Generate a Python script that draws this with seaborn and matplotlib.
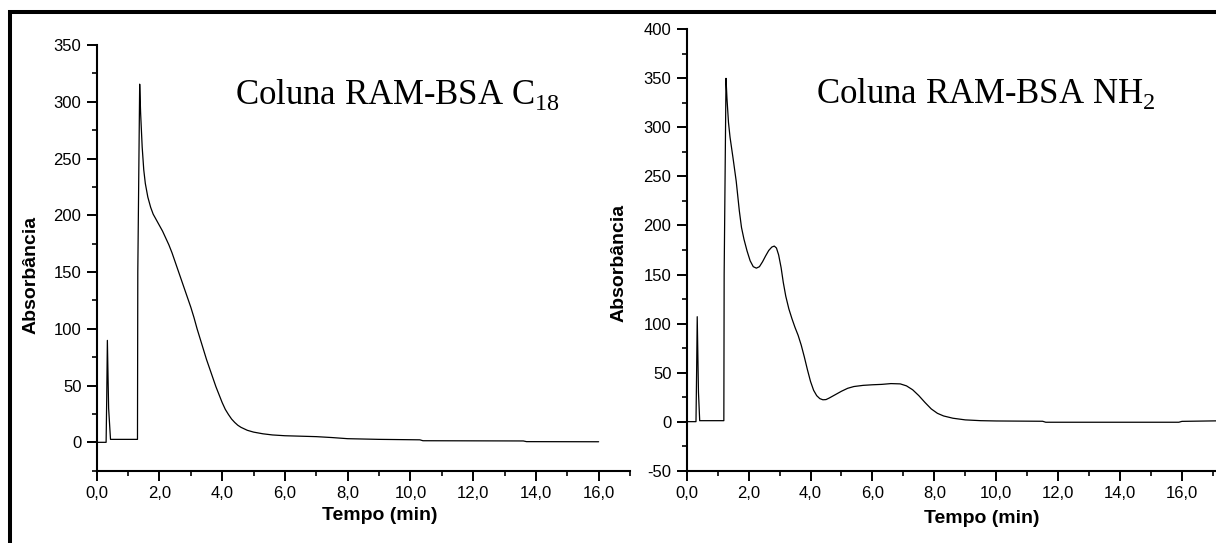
import numpy as np
import pandas as pd
import matplotlib
matplotlib.use("Agg")
import matplotlib.pyplot as plt
import matplotlib.patches as patches
from matplotlib.ticker import MultipleLocator, FuncFormatter
import seaborn as sns

# chromatogram: coluna RAM-BSA C18
c18_time = [0.0, 0.30, 0.32, 0.34, 0.38, 0.44, 1.30, 1.31, 1.37, 1.40, 1.45, 1.50, 1.55,
            1.63, 1.72, 1.80, 1.90, 2.00, 2.10, 2.20, 2.30, 2.40, 2.50, 2.60, 2.70,
            2.80, 2.90, 3.00, 3.10, 3.20, 3.30, 3.40, 3.50, 3.60, 3.70, 3.80, 3.90,
            4.00, 4.10, 4.20, 4.30, 4.40, 4.50, 4.60, 4.80, 5.00, 5.30, 5.60, 6.00,
            7.00, 7.50, 8.00, 9.00, 10.30, 10.40, 13.60, 13.70, 16.00]
c18_abs = [0.0, 0.0, 40.0, 89.8, 30.0, 2.6, 2.6, 150.0, 315.5, 290.0, 260.0, 240.0, 228.0,
           216.0, 207.0, 201.0, 196.0, 191.0, 186.0, 180.0, 174.0, 167.0, 159.0, 151.0, 143.0,
           135.0, 127.0, 119.0, 110.0, 100.0, 91.0, 82.0, 73.0, 65.0, 57.0, 49.0, 42.0,
           35.0, 29.0, 24.5, 20.5, 17.5, 15.0, 13.2, 10.6, 9.0, 7.5, 6.5, 5.8,
           5.0, 4.2, 3.2, 2.6, 2.2, 1.4, 1.2, 0.6, 0.5]

# coluna RAM-BSA NH2
nh2_time = [0.0, 0.30, 0.32, 0.34, 0.38, 0.42, 1.20, 1.21, 1.27, 1.30, 1.35, 1.40, 1.50,
            1.60, 1.70, 1.77, 1.85, 1.95, 2.05, 2.15, 2.25, 2.35, 2.45, 2.55, 2.65,
            2.75, 2.83, 2.90, 2.97, 3.05, 3.12, 3.20, 3.30, 3.40, 3.50, 3.60, 3.70,
            3.80, 3.90, 4.00, 4.10, 4.20, 4.30, 4.40, 4.50, 4.60, 4.80, 5.00, 5.20,
            5.40, 5.70, 6.00, 6.30, 6.60, 6.90, 7.10, 7.30, 7.50, 7.70, 7.90, 8.10,
            8.30, 8.60, 9.00, 9.50, 10.00, 11.50, 11.60, 15.90, 16.00, 17.10]
nh2_abs = [0.0, 0.0, 50.0, 107.0, 30.0, 1.0, 1.0, 150.0, 350.0, 330.0, 305.0, 290.0, 268.0,
           245.0, 215.0, 198.0, 186.0, 174.0, 164.0, 158.0, 156.5, 158.0, 163.0, 169.0, 174.5,
           178.0, 179.0, 177.0, 170.0, 157.0, 142.0, 128.0, 115.0, 105.0, 96.0, 88.0, 78.0,
           66.0, 53.0, 41.0, 32.0, 26.5, 23.5, 22.3, 22.5, 24.0, 27.5, 31.0, 34.0,
           35.8, 37.0, 37.6, 38.0, 38.8, 38.5, 36.5, 32.5, 26.5, 19.5, 13.0, 8.5,
           5.8, 3.5, 1.8, 1.0, 0.7, 0.4, -0.6, -0.6, 0.3, 0.8]

panels = [
    dict(time=c18_time, absorb=c18_abs, title="Coluna RAM-BSA C$_{\\mathrm{18}}$",
         ylim=(-25, 350), xlim=(0, 17.0),
         rect=[96.7, 45.0, 630.0, 470.7], title_x=235, title_y=104,
         xlab=(0.531, -0.085), ylab=(-0.108, 0.46)),
    dict(time=nh2_time, absorb=nh2_abs, title="Coluna RAM-BSA NH$_{\\mathrm{2}}$",
         ylim=(-50, 400), xlim=(0, 17.1),
         rect=[686.7, 29.3, 1216.0, 470.7], title_x=816, title_y=103,
         xlab=(0.558, -0.09), ylab=(-0.112, 0.47)),
]

sns.set_style("ticks")
plt.rcParams["font.family"] = ["Liberation Sans", "DejaVu Sans"]
plt.rcParams["mathtext.fontset"] = "custom"
plt.rcParams["mathtext.rm"] = "Liberation Serif"
plt.rcParams["axes.unicode_minus"] = False
plt.rcParams["text.color"] = "black"
plt.rcParams["axes.labelcolor"] = "black"

W, H = 1216, 543
fig = plt.figure(figsize=(W / 100, H / 100), dpi=100)
fig.patch.set_facecolor("white")

comma = FuncFormatter(lambda v, pos: f"{v:.1f}".replace(".", ","))

for p in panels:
    x0, y0, x1, y1 = p["rect"]
    ax = fig.add_axes([x0 / W, (H - y1) / H, (x1 - x0) / W, (y1 - y0) / H])
    df = pd.DataFrame({"Tempo": p["time"], "Abs": p["absorb"]})
    sns.lineplot(data=df, x="Tempo", y="Abs", ax=ax, color="black", lw=0.9,
                 estimator=None, sort=False)
    ax.set_xlim(*p["xlim"])
    ax.set_ylim(*p["ylim"])
    ax.xaxis.set_major_locator(MultipleLocator(2))
    ax.xaxis.set_minor_locator(MultipleLocator(1))
    ax.yaxis.set_major_locator(MultipleLocator(50))
    ax.yaxis.set_minor_locator(MultipleLocator(25))
    ax.xaxis.set_major_formatter(comma)
    ax.set_xticks([t for t in np.arange(0, 17, 2)])
    sns.despine(ax=ax)
    ax.patch.set_alpha(0)
    for s in ("left", "bottom"):
        ax.spines[s].set_linewidth(1.5)
        ax.spines[s].set_color("black")
    ax.tick_params(which="major", length=7, width=1.4, direction="out",
                   labelsize=12, pad=4, colors="black")
    ax.tick_params(which="minor", length=3.5, width=1.4, direction="out")
    ax.set_xlabel("Tempo (min)", fontsize=14, fontweight="bold")
    ax.set_ylabel("Absorbância", fontsize=14, fontweight="bold")
    ax.xaxis.set_label_coords(*p["xlab"])
    ax.yaxis.set_label_coords(*p["ylab"])
    fig.text(p["title_x"] / W, (H - p["title_y"]) / H, p["title"],
             fontsize=25, family="Liberation Serif", ha="left", va="baseline")

# black frame around the whole figure, cut by the right and bottom edges
frame = patches.Rectangle((10 / W, -0.1), 1.2, (H - 11.5) / H + 0.1,
                          transform=fig.transFigure, fill=False,
                          edgecolor="black", lw=2.9, clip_on=False)
fig.patches.append(frame)

fig.savefig("out.png", dpi=100)
